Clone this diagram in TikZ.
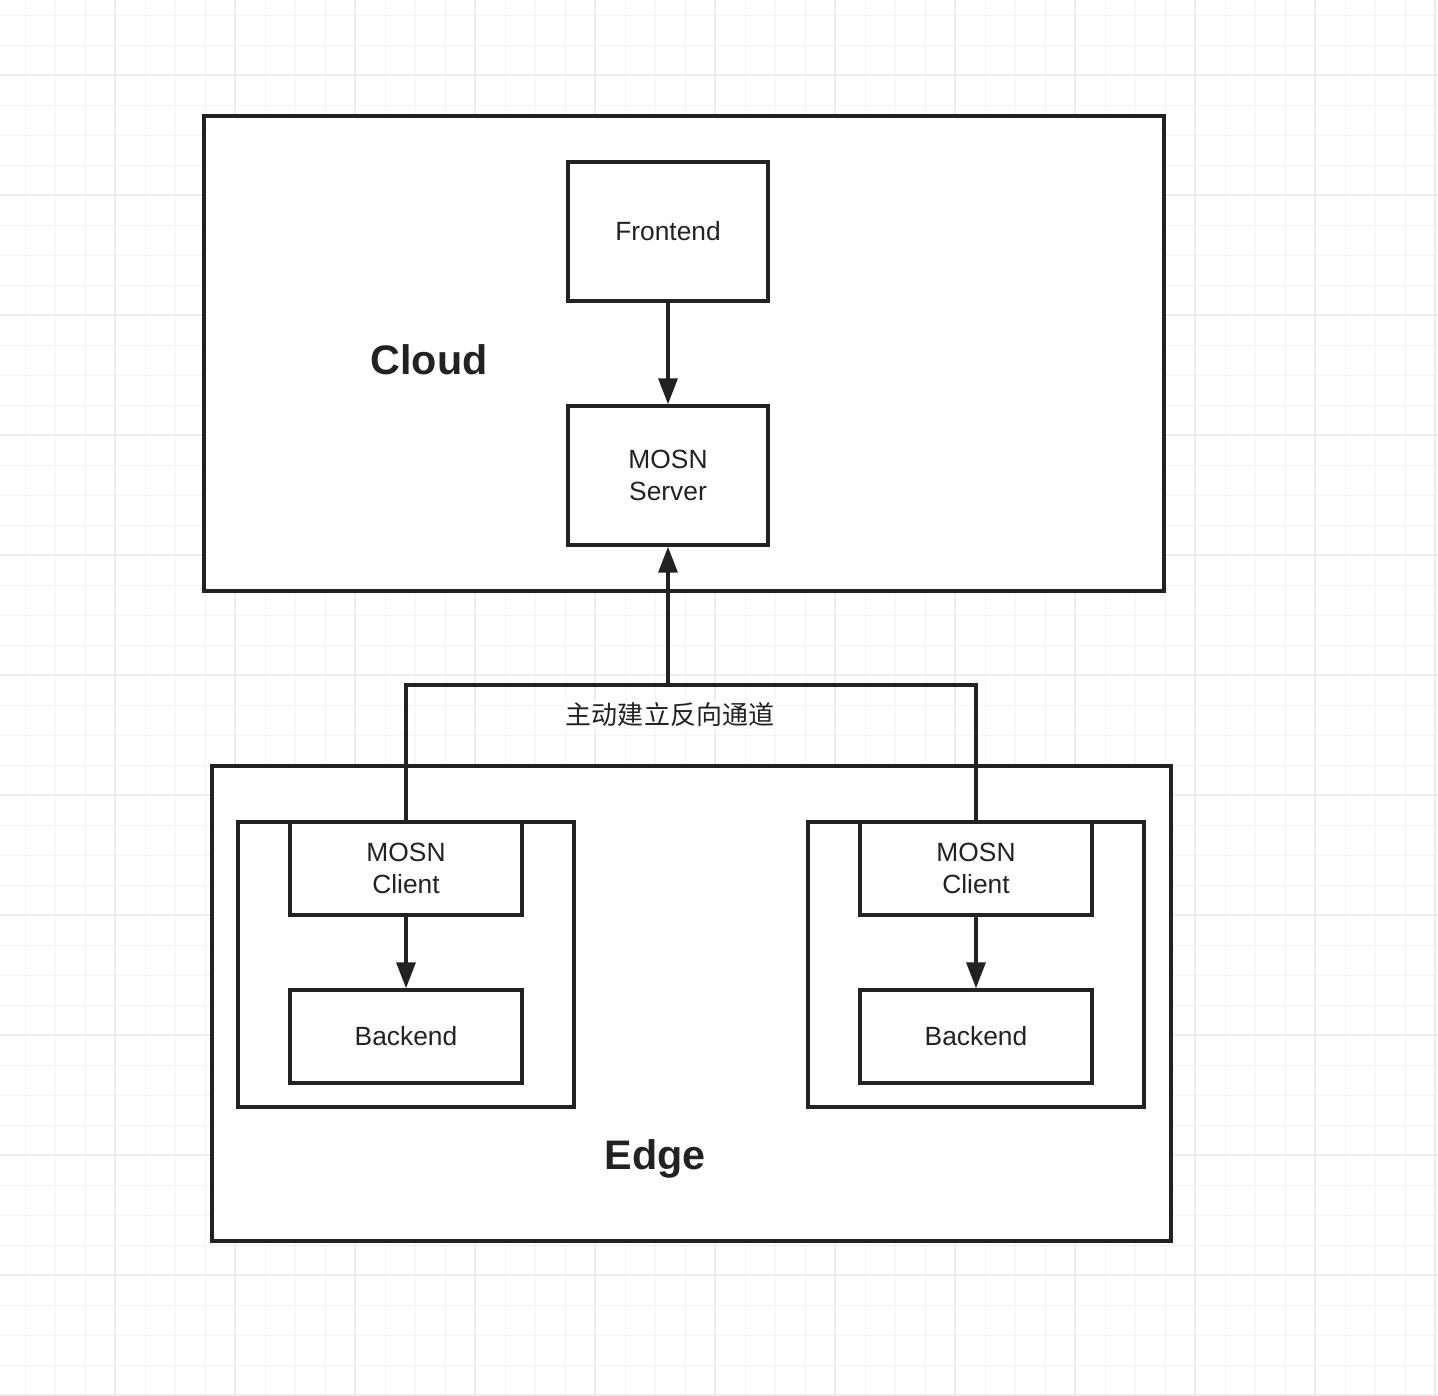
\documentclass[tikz,border=0pt]{standalone}
\usepackage{fontspec}
\setmainfont{Liberation Sans}
\newfontfamily\cjk{Noto Sans CJK SC}
\definecolor{LineDark}{RGB}{34, 34, 34}
\definecolor{GridMinor}{RGB}{244, 244, 244}
\definecolor{GridMajor}{RGB}{236, 236, 236}
\usetikzlibrary{arrows.meta, positioning, calc}

\begin{document}
\begin{tikzpicture}[x=0.02cm, y=-0.02cm,
    box/.style={draw=LineDark, line width=0.07cm, fill=white, text=LineDark, align=center, font=\fontsize{15}{18}\selectfont, inner sep=0pt},
    flow/.style={draw=LineDark, line width=0.07cm, -{Triangle[length=0.52cm, width=0.38cm]}},
    title/.style={text=LineDark, font=\fontsize{23.5}{28}\selectfont\bfseries}]
    \useasboundingbox (0,0) rectangle (1438,1396);

    % Grid paper
    \foreach \x in {25,55,...,1435} {
        \draw[GridMinor, line width=0.02cm] (\x,0) -- (\x,1396);
    }
    \foreach \y in {15,45,...,1395} {
        \draw[GridMinor, line width=0.02cm] (0,\y) -- (1438,\y);
    }
    \foreach \x in {115,235,...,1435} {
        \draw[GridMajor, line width=0.03cm] (\x,0) -- (\x,1396);
    }
    \foreach \y in {75,195,...,1395} {
        \draw[GridMajor, line width=0.03cm] (0,\y) -- (1438,\y);
    }

    % Cloud side
    \node[box, minimum width=19.2cm, minimum height=9.5cm] (cloud) at (684,353.5) {};
    \node[title] (cloudlabel) at (429,360) {Cloud};
    \node[box, minimum width=4cm, minimum height=2.78cm] (frontend) at (668,231.5) {Frontend};
    \node[box, minimum width=4cm, minimum height=2.78cm] (server) at (668,475.5) {MOSN\\Server};

    % Edge side
    \node[box, minimum width=19.18cm, minimum height=9.5cm] (edge) at (691.5,1003.5) {};
    \node[title] (edgelabel) at (655,1159) {Edge};
    \node[box, minimum width=6.72cm, minimum height=5.7cm] (lhost) at (406,964.5) {};
    \node[box, minimum width=6.72cm, minimum height=5.7cm] (rhost) at (976,964.5) {};
    \node[box, minimum width=4.64cm, minimum height=1.86cm] (lclient) at (406,868.5) {MOSN\\Client};
    \node[box, minimum width=4.64cm, minimum height=1.86cm] (rclient) at (976,868.5) {MOSN\\Client};
    \node[box, minimum width=4.64cm, minimum height=1.86cm] (lbackend) at (406,1036.5) {Backend};
    \node[box, minimum width=4.64cm, minimum height=1.86cm] (rbackend) at (976,1036.5) {Backend};

    % Connectors
    \draw[flow] (frontend) -- (server);
    \draw[flow] (lclient) -- (lbackend);
    \draw[flow] (rclient) -- (rbackend);

    % Reverse tunnel
    \coordinate (split) at (668,685);
    \draw[draw=LineDark, line width=0.07cm] (lclient.north) |- (split) -| (rclient.north);
    \draw[flow] (split) -- (server.south);
    \node[fill=white, text=LineDark, inner sep=1pt, font=\cjk\fontsize{14.8}{18}\selectfont] (tunnel) at (670,715) {主动建立反向通道};
\end{tikzpicture}
\end{document}
